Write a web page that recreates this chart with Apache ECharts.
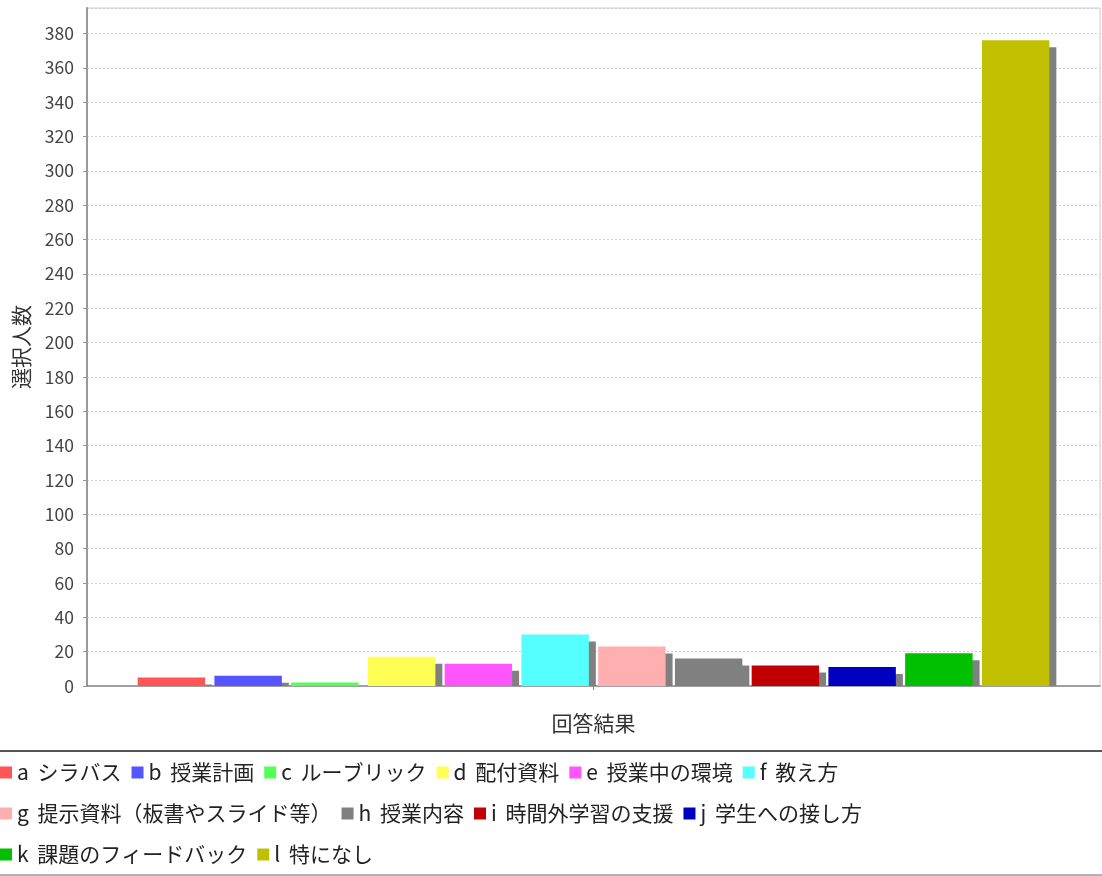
<!DOCTYPE html>
<html>
<head>
<meta charset="utf-8">
<script src="https://cdn.jsdelivr.net/npm/echarts@6/dist/echarts.min.js"></script>
<style>
html,body{margin:0;padding:0;background:#fff;}
#chart{width:1102px;height:876px;}
</style>
</head>
<body>
<div id="chart"></div>
<script>
// ---- data ----
const categories = [''];
const seriesNames = [
  'a シラバス', 'b 授業計画', 'c ルーブリック', 'd 配付資料', 'e 授業中の環境', 'f 教え方',
  'g 提示資料（板書やスライド等）', 'h 授業内容', 'i 時間外学習の支援', 'j 学生への接し方',
  'k 課題のフィードバック', 'l 特になし'
];
const seriesValues = [5, 6, 2, 17, 13, 30, 23, 16, 12, 11, 19, 376];
const seriesColors = [
  '#FF5555', '#5555FF', '#55FF55', '#FFFF55', '#FF55FF', '#55FFFF',
  '#FFAFAF', '#808080', '#C00000', '#0000C0', '#00C000', '#C0C000'
];
const xAxisTitle = '回答結果';
const yAxisTitle = '選択人数';
const yMin = 0, yMax = 394.8, yStep = 20;

// ---- layout constants ----
const N = seriesNames.length;
const CAT_GAP = 0.10;
const BAR_GAP = 0.138;
const SHADOW_OFF = 7;
const FONT = '"Noto Sans CJK JP", "Noto Sans", sans-serif';

const chart = echarts.init(document.getElementById('chart'));

const series = seriesNames.map((name, i) => ({
  type: 'custom',
  name: name,
  itemStyle: { color: seriesColors[i] },
  encode: { x: 0, y: 1 },
  data: [[0, seriesValues[i]]],
  renderItem: function (params, api) {
    const base = api.coord([api.value(0), 0]);
    const top = api.coord([api.value(0), api.value(1)]);
    const band = api.size([1, 0])[0];
    const total = band * (1 - CAT_GAP);
    const w = total / (N + (N - 1) * BAR_GAP);
    const x = base[0] - total / 2 + i * w * (1 + BAR_GAP);
    const h = base[1] - top[1];
    const sh = Math.max(0, h - SHADOW_OFF);
    return {
      type: 'group',
      children: [
        { type: 'rect', shape: { x: x + SHADOW_OFF, y: base[1] - sh, width: w, height: sh },
          style: { fill: '#808080' } },
        { type: 'rect', shape: { x: x, y: top[1], width: w, height: h },
          style: { fill: seriesColors[i] } }
      ]
    };
  }
}));

chart.setOption({
  animation: false,
  backgroundColor: '#fff',
  textStyle: { fontFamily: FONT },
  grid: {
    left: 87, right: 2, top: 8, bottom: 190,
    containLabel: false,
    outerBoundsMode: 'none',
    show: true, borderColor: '#cccccc', borderWidth: 1, backgroundColor: '#fff'
  },
  xAxis: {
    type: 'category',
    data: categories,
    name: xAxisTitle,
    nameLocation: 'middle',
    nameGap: 27,
    nameTextStyle: { fontSize: 21, color: '#333', fontFamily: FONT },
    axisLine: { lineStyle: { color: '#8a8a8a', width: 1.5 } },
    axisTick: { show: true, alignWithLabel: true, length: 4, lineStyle: { color: '#8a8a8a' } },
    axisLabel: { show: false },
    splitLine: { show: false }
  },
  yAxis: {
    type: 'value',
    min: yMin, max: yMax, interval: yStep,
    name: yAxisTitle,
    nameLocation: 'middle',
    nameRotate: 90,
    nameGap: 55,
    nameTextStyle: { fontSize: 21, color: '#333', fontFamily: FONT },
    axisLine: { show: true, lineStyle: { color: '#9a9a9a', width: 2 } },
    axisTick: { show: true, length: 4, lineStyle: { color: '#9a9a9a' } },
    axisLabel: { fontSize: 17.5, color: '#444', margin: 13, showMaxLabel: false, fontFamily: FONT },
    splitLine: { show: true, lineStyle: { color: '#d0d0d0', type: [2, 2], width: 1 } }
  },
  legend: {
    left: 0, top: 757, width: 1100,
    padding: 0,
    itemGap: 10,
    itemWidth: 12, itemHeight: 12,
    icon: 'rect',
    formatter: function (name) {
      const k = name.indexOf(' ');
      return '{k|' + name.slice(0, k) + '} {t|' + name.slice(k + 1) + '}';
    },
    textStyle: {
      fontSize: 21, lineHeight: 31, color: '#222', fontFamily: FONT,
      rich: {
        k: { fontSize: 21, lineHeight: 31, color: '#222', fontFamily: FONT, padding: [0, 4, 0, 0] },
        t: { fontSize: 21, lineHeight: 31, color: '#222', fontFamily: FONT }
      }
    },
    data: seriesNames
  },
  graphic: [
    { type: 'line', shape: { x1: 0, y1: 751, x2: 1102, y2: 751 }, style: { stroke: '#555', lineWidth: 2 }, silent: true },
    { type: 'line', shape: { x1: 0, y1: 875, x2: 1102, y2: 875 }, style: { stroke: '#999', lineWidth: 1.5 }, silent: true }
  ],
  series: series
});
</script>
</body>
</html>
